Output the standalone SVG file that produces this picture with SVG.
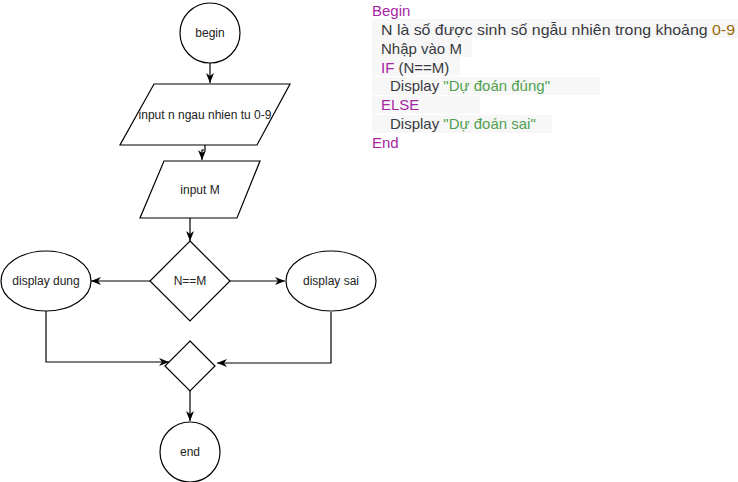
<svg xmlns="http://www.w3.org/2000/svg" width="738" height="482" viewBox="0 0 738 482">
<style>
.shape{fill:#fff;stroke:#000;stroke-width:1.2}
.lbl{font-family:"Liberation Sans",Arial,sans-serif;font-size:12px;fill:#222;text-anchor:middle}
.edge{fill:none;stroke:#000;stroke-width:1.2}
.code{font-family:"Liberation Sans",Arial,sans-serif;font-size:15px;fill:#383a42}
.kw{fill:#a626a4}
.str{fill:#50a14f}
.num{fill:#986801}
.hl{fill:#f7f7f7}
</style>
<defs>
<marker id="arr" viewBox="0 0 10 8" refX="10" refY="4" markerWidth="10" markerHeight="8" markerUnits="userSpaceOnUse" orient="auto">
<path d="M0,0 L10,4 L0,8 L3,4 Z" fill="#000"/>
</marker>
</defs>
<rect width="738" height="482" fill="#fff"/>
<g id="connectors">
<path class="edge" d="M210,63 L210,83" marker-end="url(#arr)"/>
<path class="edge" d="M205,145 L205,150 L202,150 L202,160" marker-end="url(#arr)"/>
<path class="edge" d="M190,218 L190,241" marker-end="url(#arr)"/>
<path class="edge" d="M150,281 L91,281" marker-end="url(#arr)"/>
<path class="edge" d="M230,281 L285,281" marker-end="url(#arr)"/>
<path class="edge" d="M46,311 L46,362 L169,362" marker-end="url(#arr)"/>
<path class="edge" d="M331,312 L331,363 L217,363" marker-end="url(#arr)"/>
<path class="edge" d="M190,391 L190,421" marker-end="url(#arr)"/>
</g>
<g id="begin">
<circle class="shape" cx="210" cy="33" r="30"/>
<text class="lbl" x="210" y="37">begin</text>
</g>
<g id="input-n">
<polygon class="shape" points="154,84 290,84 257,145 120,145"/>
<text class="lbl" x="205" y="119">input n ngau nhien tu 0-9</text>
</g>
<g id="input-m">
<polygon class="shape" points="164,161 260,161 237,218 140,218"/>
<text class="lbl" x="200" y="194">input M</text>
</g>
<g id="decision">
<polygon class="shape" points="190,241 230,281 190,321 150,281"/>
<text class="lbl" x="190" y="285">N==M</text>
</g>
<g id="display-dung">
<ellipse class="shape" cx="46" cy="281" rx="45" ry="30"/>
<text class="lbl" x="46" y="285">display dung</text>
</g>
<g id="display-sai">
<ellipse class="shape" cx="331" cy="281" rx="45" ry="30"/>
<text class="lbl" x="331" y="285">display sai</text>
</g>
<g id="merge">
<polygon class="shape" points="190,341 215,366 190,391 165,366"/>
</g>
<g id="end">
<circle class="shape" cx="190" cy="452" r="30"/>
<text class="lbl" x="190" y="456">end</text>
</g>
<g id="pseudocode">
<rect class="hl" x="372" y="19" width="366" height="19"/>
<rect class="hl" x="372" y="38" width="100" height="19"/>
<rect class="hl" x="372" y="57" width="88" height="19"/>
<rect class="hl" x="372" y="77" width="228" height="18"/>
<rect class="hl" x="372" y="96" width="108" height="18"/>
<rect class="hl" x="372" y="115" width="180" height="18"/>
<text class="code kw" x="372" y="15.5">Begin</text>
<text class="code" x="381" y="34.5" textLength="354" lengthAdjust="spacingAndGlyphs">N là số được sinh số ngẫu nhiên trong khoảng <tspan class="num">0-9</tspan></text>
<text class="code" x="381" y="53.5">Nhập vào M</text>
<text class="code" x="381" y="72.5"><tspan class="kw">IF</tspan> (N==M)</text>
<text class="code" x="390" y="91">Display <tspan class="str">"Dự đoán đúng"</tspan></text>
<text class="code kw" x="381" y="110">ELSE</text>
<text class="code" x="390" y="129">Display <tspan class="str">"Dự đoán sai"</tspan></text>
<text class="code kw" x="372" y="148">End</text>
</g>
</svg>
